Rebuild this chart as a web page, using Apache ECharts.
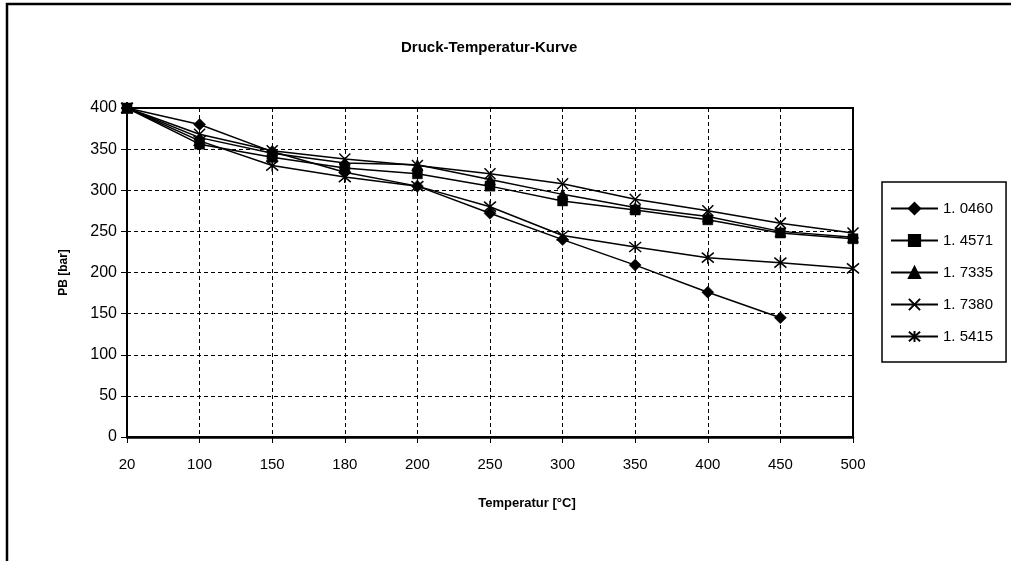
<!DOCTYPE html>
<html>
<head>
<meta charset="utf-8">
<script src="https://cdn.jsdelivr.net/npm/echarts@6/dist/echarts.min.js"></script>
<style>
html, body { margin: 0; padding: 0; background: #fff; }
#main { width: 1011px; height: 561px; }
</style>
</head>
<body>
<div id="main"></div>
<script>
// Daten
const temperaturen = ['20', '100', '150', '180', '200', '250', '300', '350', '400', '450', '500'];
const werkstoffe = ['1. 0460', '1. 4571', '1. 7335', '1. 7380', '1. 5415'];
const pb_10460 = [400, 380, 347, 322, 305, 272, 240, 209, 176, 145, null];
const pb_14571 = [400, 356, 340, 327, 320, 305, 287, 276, 264, 248, 241];
const pb_17335 = [400, 364, 345, 333, 331, 313, 295, 279, 268, 250, 243];
const pb_17380 = [400, 368, 348, 338, 330, 320, 308, 289, 275, 260, 248];
const pb_15415 = [400, 360, 330, 316, 305, 280, 245, 231, 218, 212, 205];
const yTicks = [0, 50, 100, 150, 200, 250, 300, 350, 400];

const font = 'Liberation Sans, Arial, sans-serif';

(function () {
	let myChart = echarts.init(document.getElementById('main'))

	// Marker je Werkstoff
	const symbole = [
		{ symbol: 'diamond', size: 12 },
		{ symbol: 'rect', size: 10 },
		{ symbol: 'triangle', size: 11 },
		{ symbol: 'path://M0,0L10,10M0,10L10,0', size: 11 },
		{ symbol: 'path://M0,0L10,10M0,10L10,0M5,-1L5,11', size: 12 }
	];
	const werte = [pb_10460, pb_14571, pb_17335, pb_17380, pb_15415];

	const series = werkstoffe.map(function (name, i) {
		return {
			name: name,
			type: 'line',
			data: werte[i],
			symbol: symbole[i].symbol,
			symbolSize: symbole[i].size,
			showAllSymbol: true,
			connectNulls: false,
			lineStyle: { color: '#000', width: 1.5 },
			itemStyle: { color: '#000', borderColor: '#000', borderWidth: i >= 3 ? 1.5 : 0.5 },
			emphasis: { disabled: true }
		}
	});

	const option = {
		animation: false,
		backgroundColor: '#fff',
		title: {
			text: 'Druck-Temperatur-Kurve',
			left: 401,
			top: 40,
			padding: 0,
			textStyle: { fontFamily: font, fontSize: 15, fontWeight: 'bold', color: '#000' }
		},
		// äußerer Rahmen
		graphic: [{
			type: 'rect',
			shape: { x: 7, y: 4, width: 1100, height: 700 },
			style: { fill: 'none', stroke: '#000', lineWidth: 2.5 },
			silent: true
		}],
		legend: {
			orient: 'vertical',
			left: 882,
			top: 182,
			padding: [19, 13, 18, 8],
			itemWidth: 47,
			itemHeight: 14,
			itemGap: 17,
			borderColor: '#000',
			borderWidth: 1.5,
			textStyle: { fontFamily: font, fontSize: 15, color: '#000' },
			data: werkstoffe
		},
		grid: {
			left: 127,
			right: 158,
			top: 108,
			bottom: 124,
			show: true,
			borderColor: '#000',
			borderWidth: 2,
			outerBoundsMode: 'none'
		},
		xAxis: {
			type: 'category',
			boundaryGap: false,
			data: temperaturen,
			name: 'Temperatur [°C]',
			nameLocation: 'middle',
			nameGap: 60,
			nameTextStyle: { fontFamily: font, fontSize: 13, fontWeight: 'bold', color: '#000', padding: [0, 0, 0, 74] },
			axisLine: { lineStyle: { color: '#000', width: 2.5 } },
			axisTick: { show: true, length: 6, lineStyle: { color: '#000', width: 1 } },
			axisLabel: { fontFamily: font, fontSize: 15, color: '#000', margin: 20 },
			splitLine: { show: true, lineStyle: { color: '#000', width: 1, type: [4, 3] } }
		},
		yAxis: {
			type: 'value',
			min: yTicks[0],
			max: yTicks[yTicks.length - 1],
			interval: 50,
			name: 'PB [bar]',
			nameLocation: 'middle',
			nameGap: 57,
			nameTextStyle: { fontFamily: font, fontSize: 12, fontWeight: 'bold', color: '#000' },
			axisLine: { show: true, lineStyle: { color: '#000', width: 1.5 } },
			axisTick: { show: true, length: 6, lineStyle: { color: '#000', width: 1 } },
			axisLabel: { fontFamily: font, fontSize: 16, color: '#000', margin: 10 },
			splitLine: { show: true, lineStyle: { color: '#000', width: 1, type: [4, 3] } }
		},
		series: series
	};

	myChart.setOption(option)
})();
</script>
</body>
</html>
